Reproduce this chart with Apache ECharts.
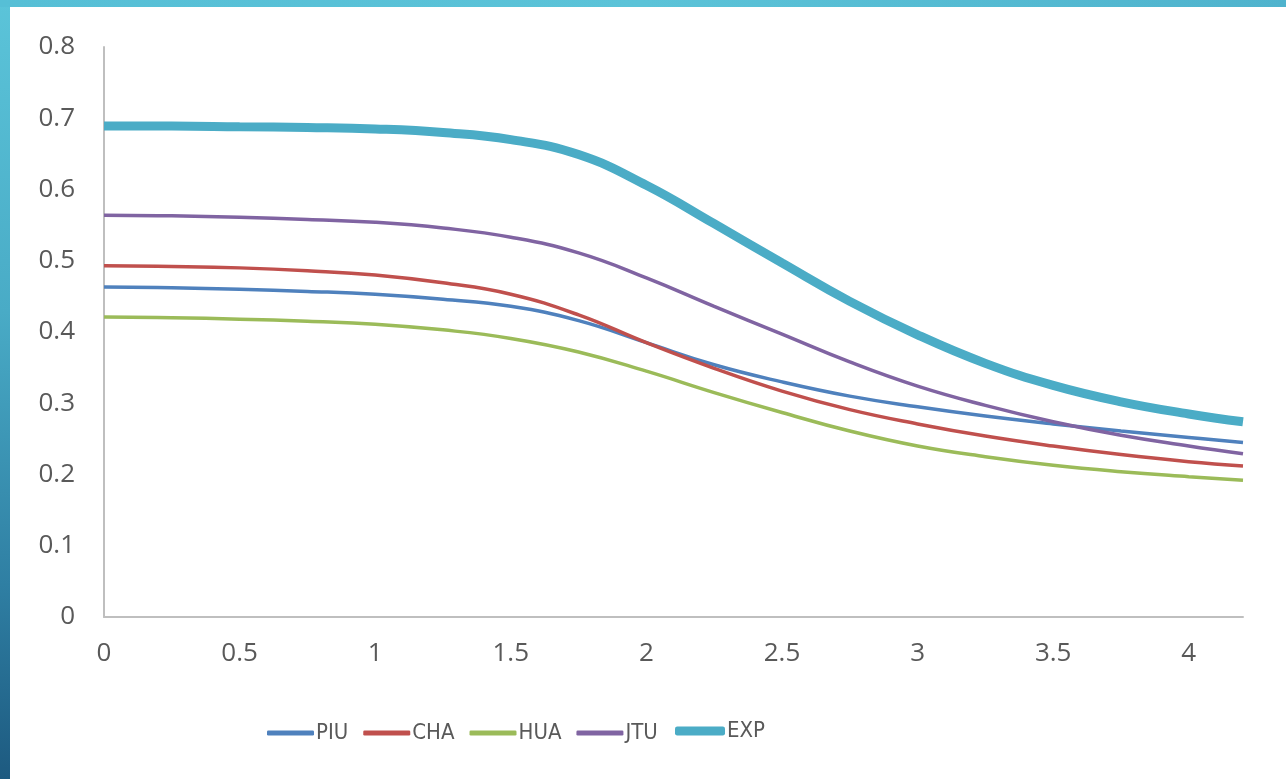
<!DOCTYPE html>
<html>
<head>
<meta charset="utf-8">
<script src="https://cdn.jsdelivr.net/npm/echarts@6/dist/echarts.min.js"></script>
<style>
  html, body { margin: 0; padding: 0; width: 1286px; height: 779px; overflow: hidden; background: #ffffff; }
  #leftbar { position: absolute; left: 0; top: 0; width: 10px; height: 779px;
    background: linear-gradient(to bottom, #5bc4d9 0%, #49abc6 40%, #2f7fa3 75%, #1d5a80 100%); }
  #topbar { position: absolute; left: 0; top: 0; width: 1286px; height: 7px;
    background: linear-gradient(to right, #56bfd6 0%, #5bc3d8 50%, #4fb3cd 100%); }
  #chart { position: absolute; left: 0; top: 0; width: 1286px; height: 779px; }
</style>
</head>
<body>
<div id="leftbar"></div>
<div id="topbar"></div>
<div id="chart"></div>
<script>
const xValues = [0, 0.25, 0.5, 0.75, 1, 1.25, 1.5, 1.75, 2, 2.25, 2.5, 2.75, 3, 3.25, 3.5, 3.75, 4, 4.2];
const PIU = [0.463, 0.462, 0.460, 0.457, 0.453, 0.446, 0.436, 0.416, 0.385, 0.354, 0.330, 0.310, 0.295, 0.282, 0.271, 0.261, 0.252, 0.245];
const CHA = [0.493, 0.492, 0.490, 0.486, 0.480, 0.469, 0.453, 0.424, 0.385, 0.349, 0.317, 0.291, 0.271, 0.254, 0.240, 0.228, 0.218, 0.212];
const HUA = [0.421, 0.420, 0.418, 0.415, 0.411, 0.403, 0.391, 0.372, 0.345, 0.315, 0.287, 0.261, 0.240, 0.225, 0.213, 0.204, 0.197, 0.192];
const JTU = [0.564, 0.563, 0.561, 0.558, 0.554, 0.546, 0.533, 0.511, 0.476, 0.436, 0.397, 0.358, 0.324, 0.297, 0.274, 0.255, 0.240, 0.229];
const EXP = [0.689, 0.689, 0.688, 0.687, 0.685, 0.680, 0.670, 0.649, 0.606, 0.552, 0.497, 0.443, 0.396, 0.356, 0.325, 0.302, 0.285, 0.274];
const seriesNames = ['PIU', 'CHA', 'HUA', 'JTU', 'EXP'];
const seriesValues = [PIU, CHA, HUA, JTU, EXP];
const colors = ['#4f81bd', '#c0504d', '#9bbb59', '#8064a2', '#4bacc6'];
const widths = [3.5, 3.5, 3.5, 3.5, 9];

const chart = echarts.init(document.getElementById('chart'), null, { renderer: 'canvas' });
const labelFont = { color: '#595959', fontSize: 26, fontFamily: 'Open Sans, Liberation Sans, sans-serif' };
const legendText = { color: '#595959', fontSize: 22, fontFamily: 'Liberation Sans Narrow, DejaVu Sans Condensed, Liberation Sans, sans-serif', padding: [0, 0, 0, -3] };

const option = {
  backgroundColor: 'transparent',
  animation: false,
  grid: { left: 104, right: 43, top: 47, bottom: 162 },
  legend: [
    {
      top: 717,
      left: 262,
      icon: 'roundRect',
      itemWidth: 47,
      itemHeight: 5,
      itemGap: 15,
      textStyle: legendText,
      data: seriesNames.slice(0, 4)
    },
    {
      top: 715,
      left: 670,
      icon: 'roundRect',
      itemWidth: 50,
      itemHeight: 9,
      textStyle: legendText,
      data: seriesNames.slice(4)
    }
  ],
  xAxis: {
    type: 'value',
    min: 0,
    max: 4.2,
    interval: 0.5,
    axisLine: { show: true, lineStyle: { color: '#bfbfbf', width: 2 } },
    axisTick: { show: false },
    splitLine: { show: false },
    axisLabel: Object.assign({ margin: 24, showMaxLabel: false }, labelFont)
  },
  yAxis: {
    type: 'value',
    min: 0,
    max: 0.8,
    interval: 0.1,
    axisLine: { show: true, lineStyle: { color: '#bfbfbf', width: 2 } },
    axisTick: { show: false },
    splitLine: { show: false },
    axisLabel: Object.assign({ margin: 29 }, labelFont)
  },
  series: seriesNames.map((name, i) => ({
    name: name,
    type: 'line',
    smooth: 0.45,
    symbol: 'none',
    color: colors[i],
    lineStyle: { color: colors[i], width: widths[i] },
    data: xValues.map((x, j) => [x, seriesValues[i][j]])
  }))
};
chart.setOption(option);
</script>
</body>
</html>
